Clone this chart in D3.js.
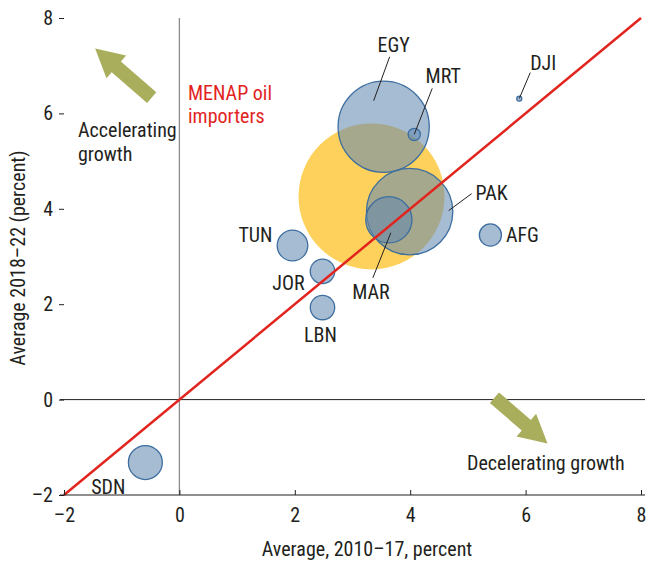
<!DOCTYPE html>
<html>
<head>
<meta charset="utf-8">
<script src="https://cdn.jsdelivr.net/npm/d3@7"></script>
<style>
  body { margin: 0; background: #fff; }
  svg text { font-family: "Liberation Sans Narrow", "Roboto Condensed", "Liberation Sans", sans-serif; font-stretch: condensed; fill: #231f20; }
</style>
</head>
<body>
<script>
// Data
const countries = ["EGY", "MRT", "DJI", "PAK", "MAR", "AFG", "TUN", "JOR", "LBN", "SDN"];
const avg2010_17 = [3.54, 4.07, 5.89, 3.99, 3.63, 5.39, 1.96, 2.48, 2.48, -0.59];
const avg2018_22 = [5.72, 5.56, 6.31, 3.94, 3.77, 3.45, 3.23, 2.69, 1.93, -1.32];
const weights = [39, 0.7, 0.12, 35, 10, 2.3, 4.4, 2.8, 2.8, 5.4];

const aggName = "MENAP oil importers";
const aggX = 3.33, aggY = 4.26, aggWeight = 100;

const xTicks = [-2, 0, 2, 4, 6, 8];
const yTicks = [-2, 0, 2, 4, 6, 8];

// Layout
const width = 651, height = 562;
const fs = '20px';

const svg = d3.select('body').append('svg')
  .attr('width', width)
  .attr('height', height);

const x = d3.scaleLinear().domain([-2, 8]).range([64, 641]);
const y = d3.scaleLinear().domain([-2, 8]).range([495, 18]);
const r = d3.scaleSqrt().domain([0, aggWeight]).range([0, 73]);

const points = countries.map((c, i) => ({ name: c, x: avg2010_17[i], y: avg2018_22[i], w: weights[i] }));

// Zero lines
svg.append('line')
  .attr('x1', x(0)).attr('x2', x(0))
  .attr('y1', y(8)).attr('y2', y(-2))
  .attr('stroke', '#8a8a8a').attr('stroke-width', 1.3);

svg.append('line')
  .attr('x1', 60).attr('x2', 645)
  .attr('y1', y(0)).attr('y2', y(0))
  .attr('stroke', '#231f20').attr('stroke-width', 1);

// Aggregate bubble
svg.append('circle')
  .attr('cx', x(aggX)).attr('cy', y(aggY))
  .attr('r', r(aggWeight))
  .attr('fill', '#fdd15b');

// Country bubbles
svg.selectAll('.bubble')
  .data(points)
  .enter()
  .append('circle')
  .attr('class', 'bubble')
  .attr('cx', d => x(d.x))
  .attr('cy', d => y(d.y))
  .attr('r', d => r(d.w))
  .attr('fill', '#6389b2')
  .attr('fill-opacity', 0.57)
  .attr('stroke', '#3d6e9f')
  .attr('stroke-width', 1.3);

// 45 degree line
svg.append('line')
  .attr('x1', x(-2)).attr('y1', y(-2))
  .attr('x2', x(8)).attr('y2', y(8))
  .attr('stroke', '#e2241f').attr('stroke-width', 2.5);

// Axes
const xAxis = d3.axisBottom(x).tickValues(xTicks).tickSize(-5).tickPadding(13)
  .tickFormat(d => d < 0 ? '–' + Math.abs(d) : d);
const gx = svg.append('g')
  .attr('transform', 'translate(0,' + y(-2) + ')')
  .call(xAxis);
gx.select('.domain').remove();
gx.selectAll('.tick line').attr('stroke', '#231f20');
gx.selectAll('text').style('font-size', fs).attr('fill', '#231f20');
svg.append('line')
  .attr('x1', 60).attr('x2', 645)
  .attr('y1', y(-2)).attr('y2', y(-2))
  .attr('stroke', '#231f20').attr('stroke-width', 1.2);

const yAxis = d3.axisLeft(y).tickValues(yTicks).tickSize(5).tickPadding(6)
  .tickFormat(d => d < 0 ? '–' + Math.abs(d) : d);
const gy = svg.append('g')
  .attr('transform', 'translate(' + x(-2) + ',0)')
  .call(yAxis);
gy.select('.domain').remove();
gy.selectAll('.tick line').attr('stroke', '#231f20');
gy.selectAll('text').style('font-size', fs).attr('fill', '#231f20');

// Axis titles
svg.append('text')
  .attr('x', 367).attr('y', 556)
  .attr('text-anchor', 'middle')
  .style('font-size', fs)
  .text('Average, 2010–17, percent');

svg.append('text')
  .attr('transform', 'translate(25,258) rotate(-90)')
  .attr('text-anchor', 'middle')
  .style('font-size', fs)
  .text('Average 2018–22 (percent)');

// Labels with leader lines (label position offsets from bubble in px)
const labelPos = {
  EGY: { dx: 10, dy: -82, lx: [6, -70], lx2: [-10, -26] },
  MRT: { dx: 29, dy: -58, lx: [18, -46], lx2: [0, 0] },
  DJI: { dx: 24, dy: -36, lx: [11, -26], lx2: [0, 0] },
  PAK: { dx: 82, dy: -19, lx: [62, -18], lx2: [39, -1] },
  MAR: { dx: -18, dy: 72, lx: [-16, 58], lx2: [2, 13] },
  AFG: { dx: 32, dy: 0 },
  TUN: { dx: -37, dy: -11 },
  JOR: { dx: -34, dy: 12 },
  LBN: { dx: -2, dy: 27 },
  SDN: { dx: -37, dy: 24 }
};

points.forEach(d => {
  const p = labelPos[d.name];
  const cx = x(d.x), cy = y(d.y);
  if (p.lx) {
    svg.append('line')
      .attr('x1', cx + p.lx[0]).attr('y1', cy + p.lx[1])
      .attr('x2', cx + p.lx2[0]).attr('y2', cy + p.lx2[1])
      .attr('stroke', '#231f20').attr('stroke-width', 1);
  }
  svg.append('text')
    .attr('x', cx + p.dx).attr('y', cy + p.dy)
    .attr('text-anchor', 'middle')
    .attr('dy', '0.35em')
    .style('font-size', fs)
    .text(d.name);
});

// Aggregate label
svg.append('text')
  .attr('x', 188).attr('y', 100)
  .style('font-size', fs)
  .selectAll('tspan')
  .data(['MENAP oil', 'importers'])
  .enter().append('tspan')
  .attr('x', 188)
  .attr('dy', (d, i) => i === 0 ? 0 : 23)
  .style('fill', '#e2241f')
  .text(d => d);

// Annotations
svg.append('text')
  .attr('x', 78).attr('y', 137)
  .style('font-size', fs)
  .selectAll('tspan')
  .data(['Accelerating', 'growth'])
  .enter().append('tspan')
  .attr('x', 78)
  .attr('dy', (d, i) => i === 0 ? 0 : 24)
  .text(d => d);

svg.append('text')
  .attr('x', 467).attr('y', 470)
  .style('font-size', fs)
  .text('Decelerating growth');

// Arrows (data coordinates: tail -> tip)
const arrows = [
  { x0: -0.48, y0: 6.33, x1: -1.46, y1: 7.36 },
  { x0: 5.46, y0: 0.04, x1: 6.38, y1: -0.92 }
];

arrows.forEach(a => {
  const tx = x(a.x0), ty = y(a.y0), hx = x(a.x1), hy = y(a.y1);
  const len = Math.hypot(hx - tx, hy - ty);
  const ang = Math.atan2(hy - ty, hx - tx) * 180 / Math.PI;
  const shaft = 7, head = 15, headLen = 28;
  const pts = [
    [0, -shaft], [len - headLen, -shaft], [len - headLen, -head],
    [len, 0], [len - headLen, head], [len - headLen, shaft], [0, shaft]
  ];
  svg.append('polygon')
    .attr('transform', 'translate(' + tx + ',' + ty + ') rotate(' + ang + ')')
    .attr('points', pts.map(p => p.join(',')).join(' '))
    .attr('fill', '#a9ae5d');
});
</script>
</body>
</html>
